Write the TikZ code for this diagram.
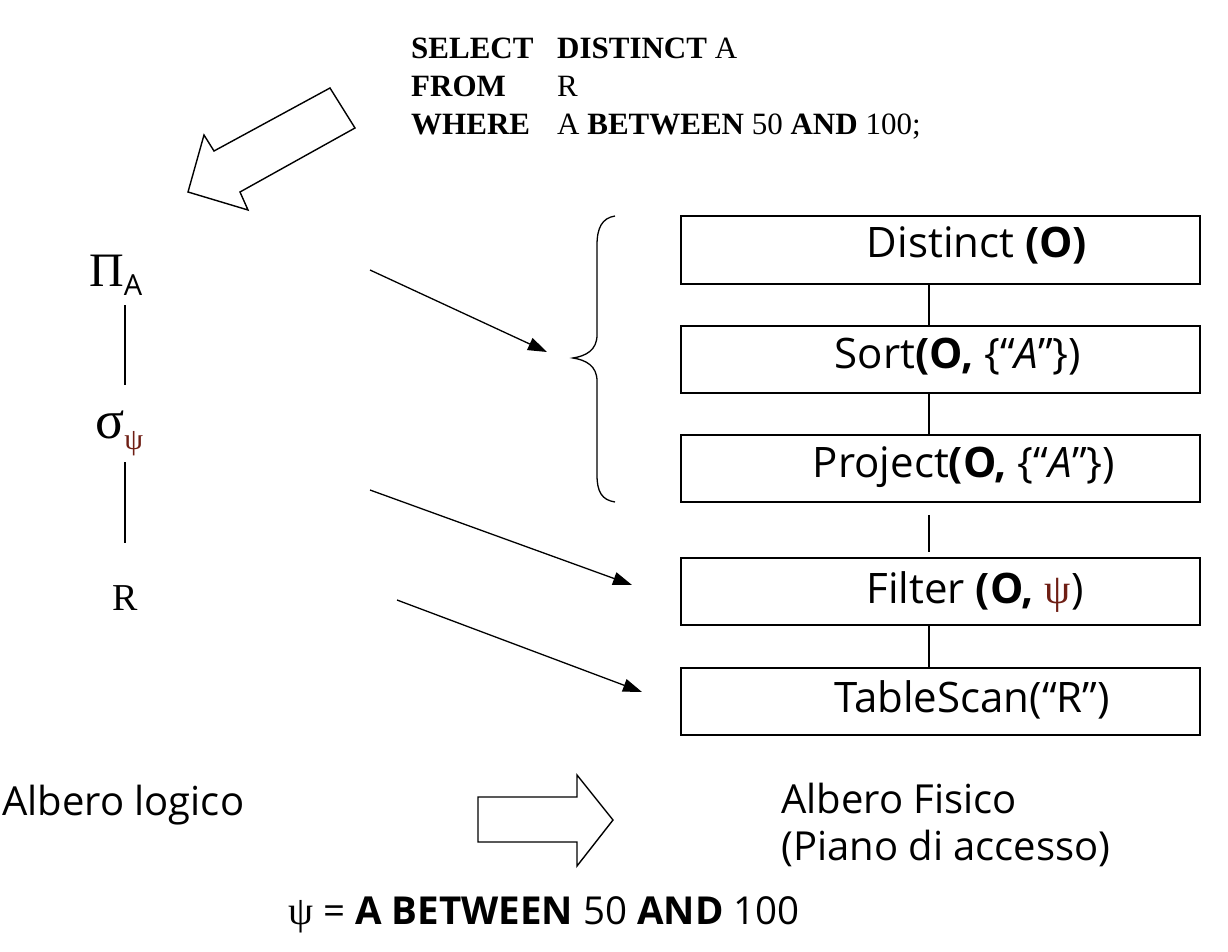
\documentclass[tikz,border=0pt]{standalone}
\usepackage{fontspec}
\setmainfont{Liberation Serif}
\newfontfamily\cs{Open Sans}
\usetikzlibrary{arrows.meta,calc}
\definecolor{psicol}{RGB}{110,30,20}
\begin{document}
\begin{tikzpicture}[x=1pt,y=-1pt,
  box/.style={draw, line width=1.6pt, minimum width=519pt, minimum height=67pt, inner sep=0pt},
  lbl/.style={font=\cs\fontsize{42}{47}\selectfont, inner sep=0pt},
  sqltext/.style={font=\fontsize{31}{38}\selectfont, inner sep=0pt, align=left},
  conn/.style={line width=1.3pt},
  arr/.style={line width=1.3pt, -{Triangle[length=19pt,width=13pt]}},
  hollow/.style={draw, line width=1.4pt, fill=white, line join=miter}]
\useasboundingbox (0,0) rectangle (1228,952);

% SQL query
\node[sqltext, anchor=base west] (sql) at (411,135)
  {\makebox[146pt][l]{\bfseries SELECT}\textbf{DISTINCT} A\\
   \makebox[146pt][l]{\bfseries FROM}R\\
   \makebox[146pt][l]{\bfseries WHERE}A \textbf{BETWEEN} 50 \textbf{AND} 100;};

% hollow arrow down-left
\draw[hollow] (188,192) -- (204,135) -- (214,151) -- (330,88) -- (355,128)
  -- (240,192) -- (248,210) -- cycle;

% logical tree
\node[inner sep=0pt, anchor=base west] (pi) at (89,286)
  {\fontsize{48}{48}\selectfont Π\raisebox{-9pt}{\cs\fontsize{29}{29}\selectfont A}};
\node[inner sep=0pt, anchor=base west] (sig) at (95,438)
  {\fontsize{54}{54}\selectfont σ\raisebox{-11pt}{\fontsize{30}{30}\selectfont\color{psicol}ψ}};
\node[inner sep=0pt, anchor=base] (r) at (125,610) {\fontsize{38}{38}\selectfont R};
\coordinate (t1) at (125,305);
\coordinate (t2) at (125,385);
\coordinate (t3) at (125,462);
\coordinate (t4) at (125,543);
\draw[conn] (t1) -- (t2);
\draw[conn] (t3) -- (t4);

% physical plan boxes
\node[box, minimum height=68pt] (b1) at (940.5,250) {};
\node[box] (b2) at (940.5,359.5) {};
\node[box] (b3) at (940.5,468.5) {};
\node[box] (b4) at (940.5,591.5) {};
\node[box] (b5) at (940.5,701.5) {};
\node[lbl] (l1) at (977,245) {Distinct \textbf{(O)}};
\node[lbl] (l2) at (958,357) {Sort\textbf{(O,} \{“\textit{A}”\})};
\node[lbl] (l3) at (964,467) {Project\textbf{(O,} \{“\textit{A}”\})};
\node[lbl] (l4) at (975,592) {Filter \textbf{(O,} {\rmfamily\color{psicol}ψ})};
\node[lbl] (l5) at (972,700) {TableScan(“R”)};

\draw[conn] ([xshift=-11.5pt]b1.south) -- ([xshift=-11.5pt]b2.north);
\draw[conn] ([xshift=-11.5pt]b2.south) -- ([xshift=-11.5pt]b3.north);
\draw[conn] ([shift={(-11.5,12)}]b3.south) -- ([shift={(-11.5,-5)}]b4.north);
\draw[conn] ([xshift=-11.5pt]b4.south) -- ([xshift=-11.5pt]b5.north);

% brace
\draw[line width=1.3pt] (615,216) .. controls (602,218) and (597,228) .. (597,245)
  -- (597,335) .. controls (597,350) and (586,356) .. (573,358)
  .. controls (586,360) and (597,366) .. (597,381)
  -- (597,475) .. controls (597,492) and (602,500) .. (615,502);
\coordinate (brace) at (547,352);

% mapping arrows
\coordinate (s1) at (370,270);
\coordinate (s2) at (370,490);
\coordinate (s3) at (397,600);
\coordinate (e2) at (632,585);
\coordinate (e3) at (642,692);
\draw[arr] (s1) -- (brace);
\draw[arr] (s2) -- (e2);
\draw[arr] (s3) -- (e3);

% bottom labels
\node[lbl, anchor=west, font=\cs\fontsize{40}{46}\selectfont] (al) at (2,805) {Albero logico};
\node[lbl, anchor=north west, align=left, font=\cs\fontsize{40}{47}\selectfont] (af) at (781,783) {Albero Fisico\\(Piano di accesso)};
\draw[hollow] (478,797) -- (577,797) -- (577,775) -- (613,820) -- (577,866)
  -- (577,842) -- (478,842) -- cycle;
\node[lbl, anchor=west, font=\cs\fontsize{38.5}{42}\selectfont] (psi) at (288,915)
  {{\rmfamily\fontsize{40}{42}\selectfont ψ} = \textbf{A BETWEEN} 50 \textbf{AND} 100};
\end{tikzpicture}
\end{document}
